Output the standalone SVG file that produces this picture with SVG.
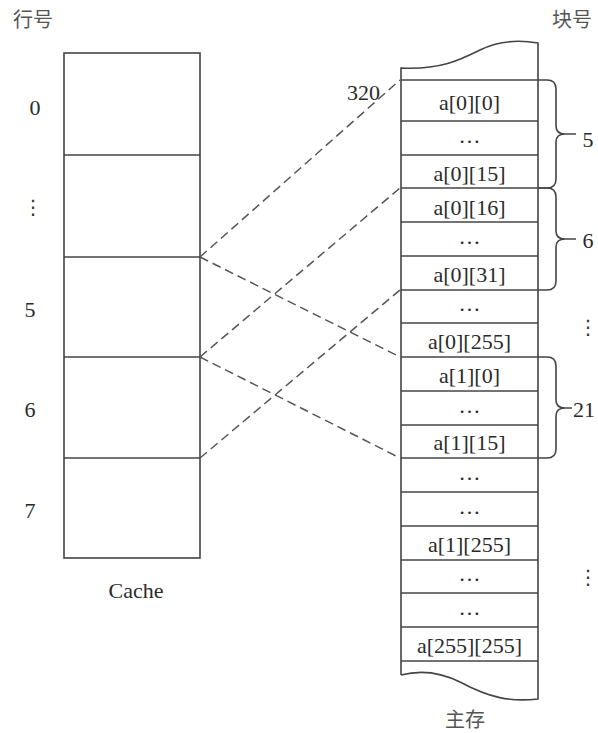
<svg xmlns="http://www.w3.org/2000/svg" width="598" height="733" viewBox="0 0 598 733">
<style>
.ln{stroke:#444;stroke-width:1.6;fill:none}
.ds{stroke:#555;stroke-width:1.5;fill:none;stroke-dasharray:9 5}
.t{font-family:"Liberation Serif","Times New Roman","DejaVu Serif",serif;font-size:22px;fill:#2a2a2a}
.m{text-anchor:middle}
.cj{font-family:"Noto Sans CJK SC",sans-serif;font-size:20px;fill:#555;text-anchor:middle}
.vd{font-family:"DejaVu Sans",sans-serif;font-size:20px;fill:#333;text-anchor:middle}
</style>
<rect width="598" height="733" fill="#fff"/>
<text class="cj" x="33" y="27">行号</text>
<text class="cj" x="572" y="27">块号</text>
<text class="cj" x="465" y="727">主存</text>
<g id="cache">
<rect class="ln" x="64" y="53" width="136" height="505"/>
<line class="ln" x1="64" y1="155" x2="200" y2="155"/>
<line class="ln" x1="64" y1="257" x2="200" y2="257"/>
<line class="ln" x1="64" y1="357" x2="200" y2="357"/>
<line class="ln" x1="64" y1="458" x2="200" y2="458"/>
<text class="t m" x="136" y="598">Cache</text>
</g>
<g id="row-labels">
<text class="t m" x="35" y="115">0</text>
<text class="vd" x="33" y="214">⋮</text>
<text class="t m" x="30" y="317">5</text>
<text class="t m" x="30" y="417">6</text>
<text class="t m" x="30" y="518">7</text>
</g>
<g id="memory">
<path class="ln" d="M401,675 V68 C440,70 460,60 480,50 C500,40 520,40 538,43 V699 C510,702 490,698 460,682 C440,672 420,670 401,675"/>
<g class="ln">
<line x1="401" y1="80" x2="538" y2="80"/>
<line x1="401" y1="121" x2="538" y2="121"/>
<line x1="401" y1="155" x2="538" y2="155"/>
<line x1="401" y1="188" x2="538" y2="188"/>
<line x1="401" y1="222" x2="538" y2="222"/>
<line x1="401" y1="256" x2="538" y2="256"/>
<line x1="401" y1="290" x2="538" y2="290"/>
<line x1="401" y1="323" x2="538" y2="323"/>
<line x1="401" y1="357" x2="538" y2="357"/>
<line x1="401" y1="391" x2="538" y2="391"/>
<line x1="401" y1="425" x2="538" y2="425"/>
<line x1="401" y1="458" x2="538" y2="458"/>
<line x1="401" y1="492" x2="538" y2="492"/>
<line x1="401" y1="526" x2="538" y2="526"/>
<line x1="401" y1="560" x2="538" y2="560"/>
<line x1="401" y1="593" x2="538" y2="593"/>
<line x1="401" y1="627" x2="538" y2="627"/>
<line x1="401" y1="661" x2="538" y2="661"/>
</g>
<g class="t m">
<text x="469.5" y="110">a[0][0]</text>
<text x="469.5" y="143">…</text>
<text x="469.5" y="181">a[0][15]</text>
<text x="469.5" y="215">a[0][16]</text>
<text x="469.5" y="244">…</text>
<text x="469.5" y="282">a[0][31]</text>
<text x="469.5" y="311">…</text>
<text x="469.5" y="349">a[0][255]</text>
<text x="469.5" y="383">a[1][0]</text>
<text x="469.5" y="413">…</text>
<text x="469.5" y="450">a[1][15]</text>
<text x="469.5" y="480">…</text>
<text x="469.5" y="514">…</text>
<text x="469.5" y="552">a[1][255]</text>
<text x="469.5" y="581">…</text>
<text x="469.5" y="615">…</text>
<text x="469.5" y="653">a[255][255]</text>
</g>
<text class="t" x="380" y="100" text-anchor="end">320</text>
</g>
<g id="braces" class="ln">
<path d="M538,80 H547 Q556,80 556,89 V126 Q556,134 565,134 Q556,134 556,142 V179 Q556,188 547,188 H538 M565,134 H576"/>
<path d="M538,188 H547 Q556,188 556,197 V231 Q556,239 565,239 Q556,239 556,247 V281 Q556,290 547,290 H538 M565,239 H576"/>
<path d="M538,357 H547 Q556,357 556,366 V400 Q556,408 565,408 Q556,408 556,416 V449 Q556,458 547,458 H538 M565,408 H572"/>
</g>
<g id="block-labels">
<text class="t m" x="588" y="147">5</text>
<text class="t m" x="588" y="248">6</text>
<text class="t" x="573" y="417">21</text>
<text class="vd" x="588" y="334">⋮</text>
<text class="vd" x="588" y="584">⋮</text>
</g>
<g id="connectors">
<line class="ds" x1="200" y1="257" x2="400" y2="80"/>
<line class="ds" x1="200" y1="257" x2="400" y2="357"/>
<line class="ds" x1="200" y1="357" x2="400" y2="188"/>
<line class="ds" x1="200" y1="357" x2="400" y2="458"/>
<line class="ds" x1="200" y1="458" x2="400" y2="290"/>
</g>
</svg>
